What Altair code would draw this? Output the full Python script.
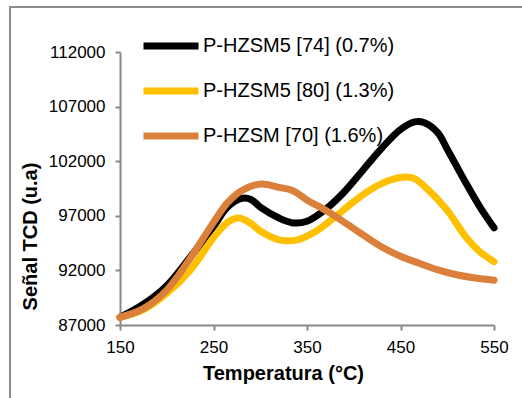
import altair as alt
import pandas as pd

series_names = ["P-HZSM5 [74] (0.7%)", "P-HZSM5 [80] (1.3%)", "P-HZSM [70] (1.6%)"]
series_colors = ["#000000", "#FFC000", "#DB803A"]

t_black = [150, 175, 200, 225, 250, 265, 280, 290, 300, 320, 335, 350, 370, 390, 410, 430, 450, 465, 475, 490, 500, 520, 535, 550]
v_black = [87700, 88900, 90600, 93200, 96000, 97800, 98600, 98500, 97800, 96800, 96350, 96500, 97600, 99200, 101200, 103200, 104900, 105600, 105550, 104600, 103100, 100000, 97800, 95900]

t_yellow = [150, 175, 200, 225, 250, 265, 277, 290, 300, 320, 340, 360, 380, 400, 420, 440, 455, 465, 480, 500, 520, 535, 550]
v_yellow = [87700, 88400, 89900, 92000, 95000, 96400, 96800, 96300, 95600, 94800, 94800, 95600, 96900, 98300, 99500, 100300, 100550, 100400, 99350, 97500, 95050, 93700, 92800]

t_orange = [150, 175, 200, 225, 250, 265, 280, 300, 320, 335, 350, 370, 390, 410, 430, 450, 470, 490, 510, 530, 550]
v_orange = [87700, 88500, 90200, 93100, 96400, 98200, 99300, 99900, 99600, 99300, 98450, 97500, 96400, 95250, 94150, 93300, 92650, 92050, 91600, 91300, 91100]

x_ticks = [150, 250, 350, 450, 550]
y_ticks = [87000, 92000, 97000, 102000, 107000, 112000]

rows = []
for name, ts, vs in zip(series_names, [t_black, t_yellow, t_orange], [v_black, v_yellow, v_orange]):
    for t, v in zip(ts, vs):
        rows.append({"serie": name, "T": t, "v": v})
df = pd.DataFrame(rows)

font = "Liberation Sans"

lines = alt.Chart(df).mark_line(strokeWidth=7, interpolate="catmull-rom", strokeCap="round", strokeJoin="round").encode(
    x=alt.X("T:Q", scale=alt.Scale(domain=[150, 550], nice=False, zero=False),
            axis=alt.Axis(values=x_ticks, title="Temperatura (°C)", titleX=163, titleY=48,
                          titleBaseline="middle", titleAlign="center", labelPadding=9)),
    y=alt.Y("v:Q", scale=alt.Scale(domain=[87000, 112000], nice=False, zero=False),
            axis=alt.Axis(values=y_ticks, format="d", title="Señal TCD (u.a)", titleAngle=270,
                          titleX=-90, titleY=184, titleBaseline="middle", titleAlign="center",
                          labelPadding=10)),
    color=alt.Color("serie:N", sort=series_names,
                    scale=alt.Scale(domain=series_names, range=series_colors),
                    legend=alt.Legend(title=None, orient="none", legendX=20, legendY=-37,
                                      symbolType="stroke", symbolSize=3025, symbolStrokeWidth=7,
                                      labelFont=font, labelFontSize=20, labelColor="#000000",
                                      labelOffset=1, labelLimit=0, rowPadding=0, padding=0)),
    order=alt.Order("T:Q"),
)

frame = alt.Chart(pd.DataFrame({"a": [0]})).mark_rect(fill=None, stroke="#8c8c8c", strokeWidth=2).encode(
    x=alt.value(-110), x2=alt.value(420), y=alt.value(-45), y2=alt.value(360)
)

chart = alt.layer(frame, lines).properties(
    width=374, height=273,
    autosize=alt.AutoSizeParams(type="none"),
    padding={"left": 120, "top": 52, "right": 28, "bottom": 73},
    background="white",
).configure_view(stroke=None).configure_axis(
    grid=False, domainColor="#888888", domainWidth=2, tickColor="#888888", tickWidth=2, tickSize=5,
    labelFont=font, labelFontSize=17, labelColor="#000000", labelFlush=False,
    titleFont=font, titleFontSize=20, titleFontWeight="bold", titleColor="#000000",
)

chart.save("out.html", embed_options={"renderer": "svg", "actions": False})
